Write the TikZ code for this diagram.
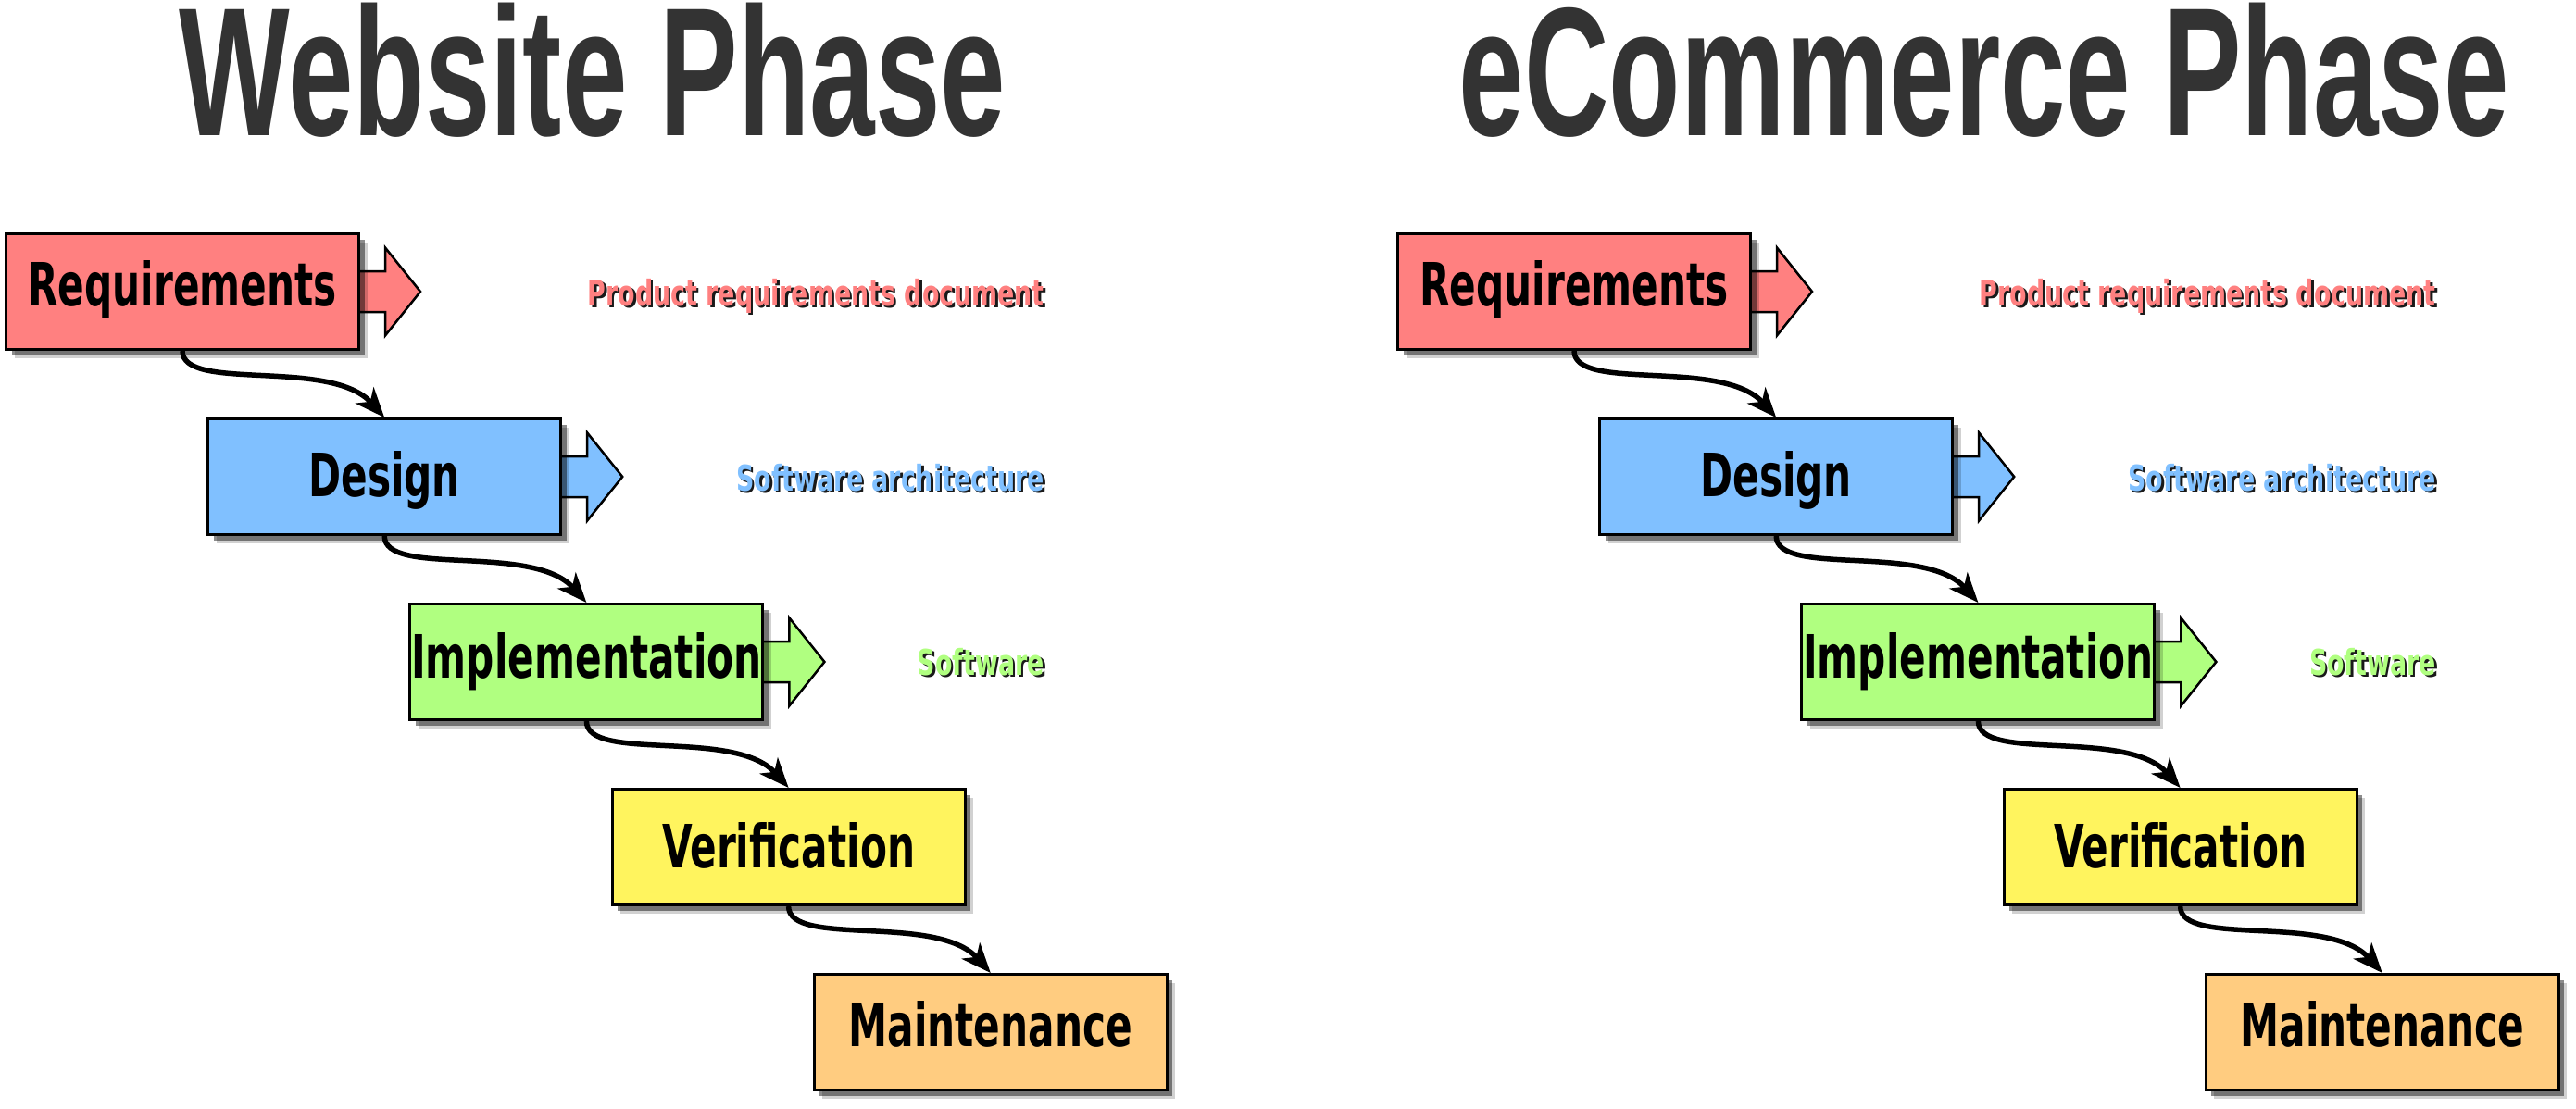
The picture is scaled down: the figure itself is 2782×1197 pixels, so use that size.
\documentclass[tikz,border=0pt]{standalone}
\usepackage{fontspec}
\usetikzlibrary{shadows,arrows.meta,backgrounds}
\newfontfamily\titlefont[FakeStretch=0.64]{Liberation Sans}
\newfontfamily\boxfont[FakeStretch=0.655]{DejaVu Sans}
\newfontfamily\labfont[FakeStretch=0.70]{DejaVu Sans}
\definecolor{creq}{HTML}{FF8080}
\definecolor{cdes}{HTML}{80C0FF}
\definecolor{cimp}{HTML}{B0FF80}
\definecolor{cver}{HTML}{FFF45E}
\definecolor{cmai}{HTML}{FFCC80}
\definecolor{ctitle}{HTML}{333333}
\tikzset{
  phase/.style={draw=black, line width=3pt, minimum width=381pt, minimum height=125pt,
    inner sep=0pt, font=\boxfont\bfseries\fontsize{64.5}{66}\selectfont,
    text height=49pt, text depth=15pt,
    drop shadow={shadow xshift=9pt, shadow yshift=-9pt, opacity=0.18, fill=black},
    drop shadow={shadow xshift=6pt, shadow yshift=-6pt, opacity=0.45, fill=black}},
  titlet/.style={inner sep=0pt, anchor=base, text=ctitle, text height=140pt, text depth=0pt,
    font=\titlefont\bfseries\fontsize{198}{200}\selectfont},
  lab/.style={inner sep=0pt, anchor=base east,
    font=\labfont\bfseries\fontsize{38.4}{40}\selectfont},
  conn/.style={line width=5.5pt, -{Stealth[length=32pt, width=26pt, inset=9pt]}},
  fatarr/.style={draw=black, line width=2.5pt, line join=miter}
}
\newcommand\fatarrow[2]{%
  \draw[fatarr, fill=#2] ([shift={(-12,-22)}]#1.east) -- ([shift={(27,-22)}]#1.east)
    -- ([shift={(27,-47.5)}]#1.east) -- ([shift={(65,0)}]#1.east)
    -- ([shift={(27,47.5)}]#1.east) -- ([shift={(27,22)}]#1.east)
    -- ([shift={(-12,22)}]#1.east) -- cycle;}
\newcommand\shlabel[5]{% name, x, y, colour, text
  \node[lab, text=black!90] (#1sh) at (#2+2.5,#3+2.5) {#5};
  \node[lab, text=#4] (#1) at (#2,#3) {#5};}
\newcommand\drawcolumn[2]{%
  \node[titlet] (#1title) at (640,146) {#2};
  \node[phase, fill=creq, text depth=19pt] (#1req) at (197,315) {Requirements};
  \node[phase, fill=cdes, text depth=6pt] (#1des) at (415.2,515) {Design};
  \node[phase, fill=cimp, text depth=14pt] (#1imp) at (633.4,715) {Implementation};
  \node[phase, fill=cver, text depth=5pt] (#1ver) at (851.6,915) {Verification};
  \node[phase, fill=cmai, text depth=18pt] (#1mai) at (1069.8,1115) {Maintenance};
  \begin{scope}[on background layer]
    \fatarrow{#1req}{creq}
    \fatarrow{#1des}{cdes}
    \fatarrow{#1imp}{cimp}
  \end{scope}
  \draw[conn] (#1req.south) .. controls +(0,45) and +(-58,-65) .. (#1des.north);
  \draw[conn] (#1des.south) .. controls +(0,45) and +(-58,-65) .. (#1imp.north);
  \draw[conn] (#1imp.south) .. controls +(0,45) and +(-58,-65) .. (#1ver.north);
  \draw[conn] (#1ver.south) .. controls +(0,45) and +(-58,-65) .. (#1mai.north);
  \shlabel{#1reqlab}{1128}{330}{creq}{Product requirements document}
  \shlabel{#1deslab}{1128}{530}{cdes}{Software architecture}
  \shlabel{#1implab}{1128}{729}{cimp}{Software}
}
\begin{document}
\begin{tikzpicture}[x=1pt, y=-1pt]
  \useasboundingbox (0,0) rectangle (2782,1197);
  \drawcolumn{l}{Website Phase}
  \begin{scope}[xshift=1503pt]
    \drawcolumn{r}{eCommerce Phase}
  \end{scope}
\end{tikzpicture}
\end{document}
